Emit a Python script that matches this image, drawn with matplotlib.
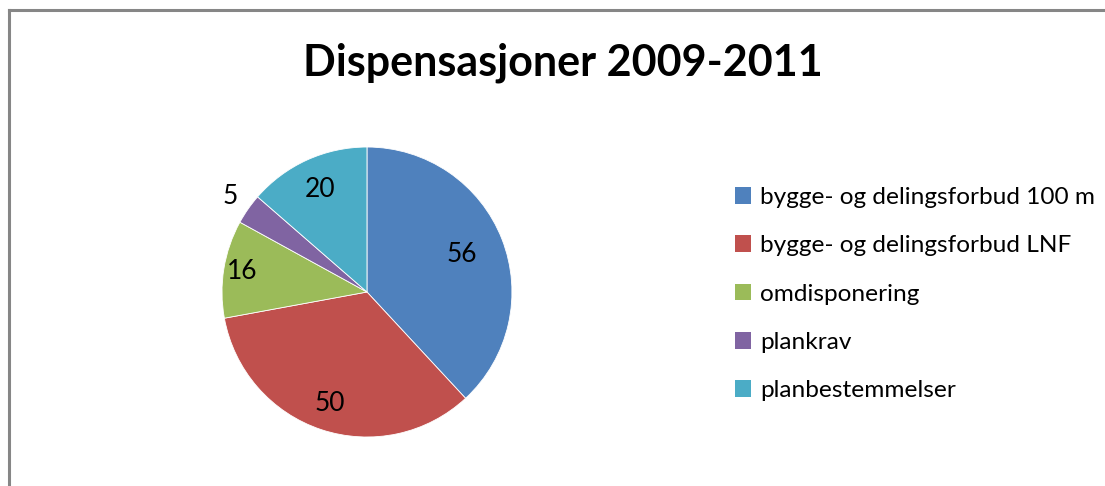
import numpy as np
import matplotlib
matplotlib.use('Agg')
import matplotlib.pyplot as plt
from matplotlib.patches import Patch

# data
categories = ["bygge- og delingsforbud 100 m", "bygge- og delingsforbud LNF",
              "omdisponering", "plankrav", "planbestemmelser"]
values = [56, 50, 16, 5, 20]
colors = ["#4F81BD", "#C0504D", "#9BBB59", "#8064A2", "#4BACC6"]
title = "Dispensasjoner 2009-2011"

# label distance from centre (fraction of radius), Excel "best fit" style
label_dist = [0.70, 0.81, 0.87, 1.15, 0.78]

plt.rcParams['font.family'] = ['Lato', 'DejaVu Sans']

fig = plt.figure(figsize=(11.05, 4.86), dpi=100)

# chart frame (only left and top edges are visible in the crop)
fig.add_artist(plt.Line2D([0.0077, 0.0077], [0, 0.9785], transform=fig.transFigure,
                          color="#868686", lw=2.2))
fig.add_artist(plt.Line2D([0.0077, 1.0], [0.9785, 0.9785], transform=fig.transFigure,
                          color="#868686", lw=2.2))

ax = fig.add_axes([0.2009, 0.1008, 0.2624, 0.5967])
wedges, _ = ax.pie(values, colors=colors, startangle=90, counterclock=False,
                   radius=1.0, wedgeprops=dict(linewidth=0.6, edgecolor="white"))
ax.set_xlim(-1, 1)
ax.set_ylim(-1, 1)
ax.set_aspect('auto')
ax.axis("off")

for w, v, d in zip(wedges, values, label_dist):
    ang = np.deg2rad((w.theta1 + w.theta2) / 2)
    ax.text(d * np.cos(ang), d * np.sin(ang), str(v), ha="center", va="center",
            fontsize=19, color="black")

fig.text(0.509, 0.870, title, ha="center", va="center", fontsize=31, fontweight="bold")

handles = [Patch(facecolor=c, edgecolor="none") for c in colors]
fig.legend(handles, categories, loc="center left", bbox_to_anchor=(0.665, 0.395),
           frameon=False, fontsize=17.6, handlelength=0.68, handleheight=0.68,
           handletextpad=0.35, labelspacing=1.12, borderpad=0, borderaxespad=0)

plt.savefig("out.png", dpi=100)
plt.close()
